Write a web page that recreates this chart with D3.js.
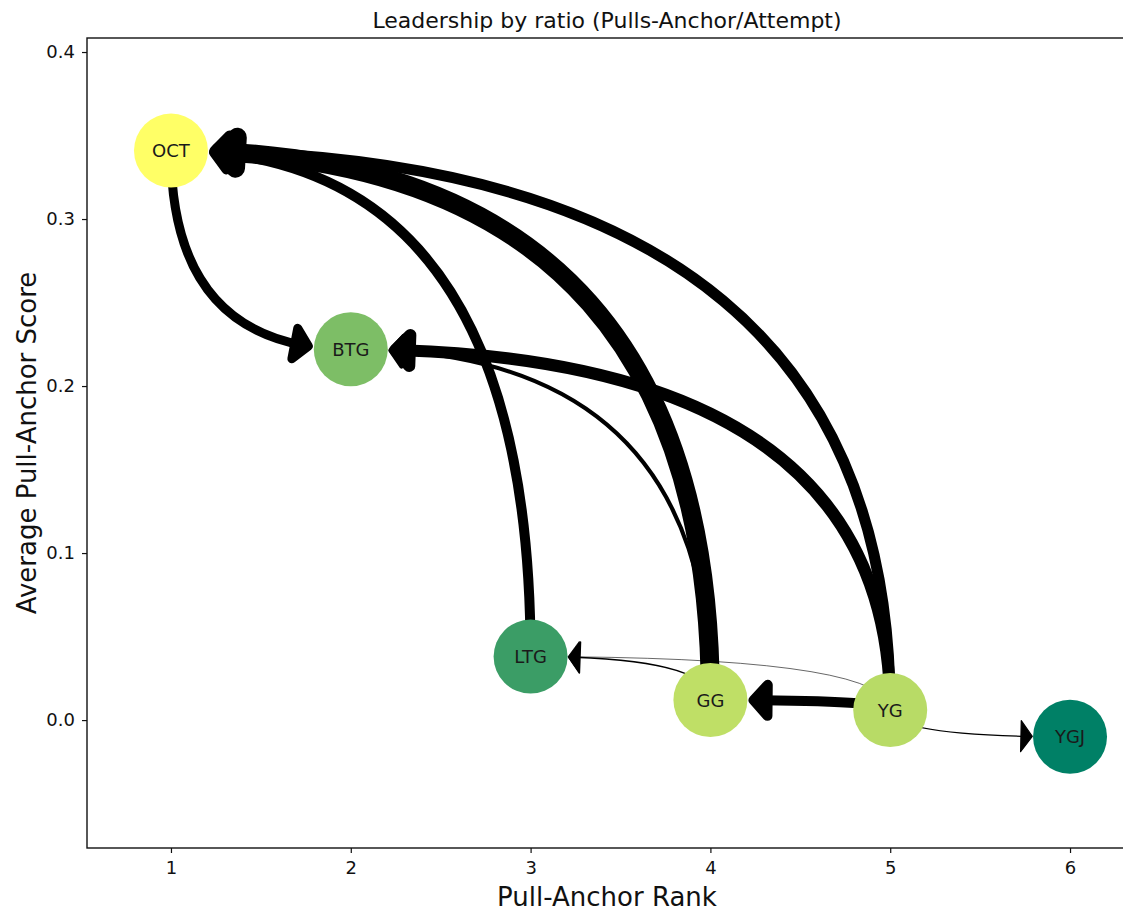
<!DOCTYPE html>
<html>
<head>
<meta charset="utf-8">
<script src="https://cdn.jsdelivr.net/npm/d3@7"></script>
<style>
  body { margin: 0; background: #fff; }
  text { font-family: "DejaVu Sans", sans-serif; }
</style>
</head>
<body>
<svg id="chart" width="1123" height="914"></svg>
<script>
// Teams: rank on the x axis, average pull-anchor score on the y axis
const nodeNames = ["OCT", "BTG", "LTG", "GG", "YG", "YGJ"];
const nodeRank  = [1, 2, 3, 4, 5, 6];
const nodeScore = [0.341, 0.222, 0.038, 0.012, 0.006, -0.010];
const nodeShade = [1.0, 0.49, 0.23, 0.75, 0.72, 0.0];

// Directed leadership links (who pulls toward whom) and their weights
const edgeSource = ["GG", "YG", "LTG", "OCT", "YG", "GG", "YG", "GG", "YG", "YG"];
const edgeTarget = ["OCT", "OCT", "OCT", "BTG", "BTG", "BTG", "GG", "LTG", "LTG", "YGJ"];
const edgeWeight = [19, 11, 10, 9, 12, 4, 10, 1.5, 0.6, 1.2];

const xTicks = [1, 2, 3, 4, 5, 6];
const yTicks = [0.0, 0.1, 0.2, 0.3, 0.4];

const titleText = "Leadership by ratio (Pulls-Anchor/Attempt)";
const xLabelText = "Pull-Anchor Rank";
const yLabelText = "Average Pull-Anchor Score";

// ---- layout ----
const svg = d3.select("#chart");
const plotLeft = 87, plotRight = 1154, plotTop = 38, plotBottom = 848;
const x = d3.scaleLinear().domain([0.533, 6.467]).range([plotLeft, plotRight]);
const y = d3.scaleLinear().domain([-0.0766, 0.4084]).range([plotBottom, plotTop]);
const nodeRadius = 37;
const widthScale = d3.scaleLinear().domain([0, 1]).range([0, 1]);

// summer colormap: (t, 0.5 + 0.5 t, 0.4)
const summer = t => d3.rgb(255 * t, 255 * (0.5 + 0.5 * t), 102).formatHex();

const nodes = nodeNames.map((n, i) => ({
  name: n, rank: nodeRank[i], score: nodeScore[i], shade: nodeShade[i],
  px: x(nodeRank[i]), py: y(nodeScore[i])
}));
const byName = new Map(nodes.map(d => [d.name, d]));

// ---- frame ----
svg.append("rect")
  .attr("x", plotLeft).attr("y", plotTop)
  .attr("width", plotRight - plotLeft).attr("height", plotBottom - plotTop)
  .attr("fill", "none").attr("stroke", "#111").attr("stroke-width", 1.4);

// ---- axes ----
const xAxis = svg.append("g")
  .attr("transform", `translate(0,${plotBottom})`)
  .call(d3.axisBottom(x).tickValues(xTicks).tickFormat(d3.format("d")).tickSize(5).tickPadding(8));
const yAxis = svg.append("g")
  .attr("transform", `translate(${plotLeft},0)`)
  .call(d3.axisLeft(y).tickValues(yTicks).tickFormat(d3.format(".1f")).tickSize(5).tickPadding(7));
[xAxis, yAxis].forEach(g => {
  g.select(".domain").remove();
  g.selectAll(".tick line").attr("stroke", "#111").attr("stroke-width", 1.2);
  g.selectAll(".tick text").attr("fill", "#111").style("font-size", "18px")
    .style("font-family", "'DejaVu Sans', sans-serif");
});

// ---- edges: quadratic curves leaving the source vertically, entering the target horizontally ----
function bez(p0, p1, p2, t) {
  const u = 1 - t;
  return [u * u * p0[0] + 2 * u * t * p1[0] + t * t * p2[0],
          u * u * p0[1] + 2 * u * t * p1[1] + t * t * p2[1]];
}
function tAtDistance(p0, p1, p2, c, dist) {
  let lo = 0, hi = 1;
  for (let i = 0; i < 60; i++) {
    const m = (lo + hi) / 2;
    const p = bez(p0, p1, p2, m);
    if (Math.hypot(p[0] - c[0], p[1] - c[1]) > dist) lo = m; else hi = m;
  }
  return lo;
}

const edgeLayer = svg.append("g");
edgeSource.forEach((s, i) => {
  const a = byName.get(s), b = byName.get(edgeTarget[i]);
  const lw = widthScale(edgeWeight[i]);
  const p0 = [a.px, a.py], p2 = [b.px, b.py], p1 = [a.px, b.py];
  const tipDist = nodeRadius + 0.62 * lw;
  const headLen = 11 + 0.3 * lw;
  const headHalf = 15.5;
  const tTip = tAtDistance(p0, p1, p2, p2, tipDist);
  const tBase = tAtDistance(p0, p1, p2, p2, tipDist + headLen);
  const tip = bez(p0, p1, p2, tTip);
  const base = bez(p0, p1, p2, tBase);
  const dx = tip[0] - base[0], dy = tip[1] - base[1];
  const len = Math.hypot(dx, dy) || 1;
  const nx = -dy / len, ny = dx / len;

  // shaft: sub-curve from the source to just inside the head
  const tEnd = (tBase + tTip) / 2;
  const q1 = [p0[0] + (p1[0] - p0[0]) * tEnd, p0[1] + (p1[1] - p0[1]) * tEnd];
  const q2 = bez(p0, p1, p2, tEnd);
  const path = d3.path();
  path.moveTo(p0[0], p0[1]);
  path.quadraticCurveTo(q1[0], q1[1], q2[0], q2[1]);
  edgeLayer.append("path")
    .attr("d", path.toString())
    .attr("fill", "none").attr("stroke", "#000")
    .attr("stroke-width", lw).attr("stroke-linecap", "butt");

  // head
  const head = d3.path();
  head.moveTo(tip[0], tip[1]);
  head.lineTo(base[0] + nx * headHalf, base[1] + ny * headHalf);
  head.lineTo(base[0] - nx * headHalf, base[1] - ny * headHalf);
  head.closePath();
  edgeLayer.append("path")
    .attr("d", head.toString())
    .attr("fill", "#000").attr("stroke", "#000")
    .attr("stroke-width", lw).attr("stroke-linejoin", "round");
});

// ---- nodes ----
const nodeLayer = svg.append("g");
nodeLayer.selectAll("circle").data(nodes).join("circle")
  .attr("cx", d => d.px).attr("cy", d => d.py).attr("r", nodeRadius)
  .attr("fill", d => summer(d.shade));
nodeLayer.selectAll("text").data(nodes).join("text")
  .attr("x", d => d.px).attr("y", d => d.py)
  .attr("text-anchor", "middle").attr("dy", "0.36em")
  .attr("fill", "#1a1a1a").style("font-size", "18px")
  .text(d => d.name);

// ---- titles ----
const centerX = 607;
svg.append("text").attr("x", centerX).attr("y", 28)
  .attr("text-anchor", "middle").style("font-size", "22px").attr("fill", "#111")
  .text(titleText);
svg.append("text").attr("x", centerX).attr("y", 906)
  .attr("text-anchor", "middle").style("font-size", "26px").attr("fill", "#111")
  .text(xLabelText);
svg.append("text")
  .attr("transform", `translate(36,${(plotTop + plotBottom) / 2}) rotate(-90)`)
  .attr("text-anchor", "middle").style("font-size", "26px").attr("fill", "#111")
  .text(yLabelText);
</script>
</body>
</html>
